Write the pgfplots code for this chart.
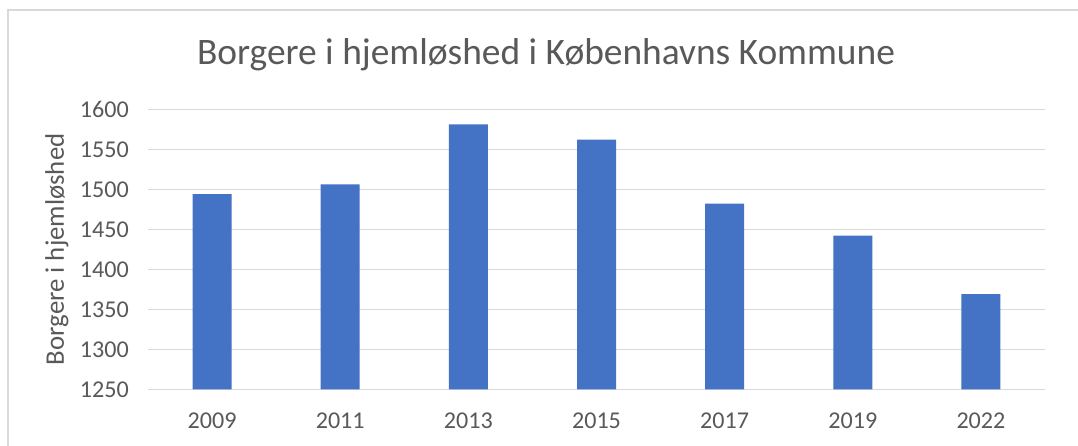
\documentclass[border=0pt]{standalone}
\usepackage{fontspec}
\setmainfont{Carlito}
\usepackage{pgfplots}
\pgfplotsset{compat=1.18}
\definecolor{barblue}{HTML}{4472C4}
\definecolor{gridgray}{HTML}{D9D9D9}
\definecolor{textgray}{HTML}{595959}
\begin{document}
\begin{tikzpicture}[x=1pt,y=1pt]
\useasboundingbox (0,0) rectangle (1078,446);
\fill[white] (0,0) rectangle (1078,446);
\draw[gridgray, line width=1.5pt] (8,0) -- (8,436) -- (1078,436);
\node[anchor=base, font=\fontsize{37.4}{44}\selectfont, text=textgray, inner sep=0pt] at (546,381) {Borgere i hjemløshed i Københavns Kommune};
\begin{axis}[
  at={(148pt,56.7pt)}, anchor=south west,
  scale only axis, width=897pt, height=280pt,
  xmin=-0.5, xmax=6.5, ymin=1250, ymax=1600,
  ybar, bar width=39pt,
  xtick=data,
  xticklabels={2009,2011,2013,2015,2017,2019,2022},
  ytick={1250,1300,1350,1400,1450,1500,1550,1600},
  ymajorgrids,
  grid style={gridgray, line width=1.3pt},
  axis line style={draw=none},
  major tick length=0pt,
  tick label style={font=\fontsize{24.1}{29}\selectfont, text=textgray},
  /pgf/number format/assume math mode=true,
  /pgf/number format/1000 sep={},
  yticklabel style={anchor=east, inner sep=0pt, xshift=-19pt},
  xticklabel style={anchor=north, inner sep=0pt, yshift=-23pt},
  ylabel={Borgere i hjemløshed},
  every axis y label/.style={at={(axis description cs:-0.1015,0.5)}, rotate=90, anchor=center, font=\fontsize{26.8}{32}\selectfont, text=textgray},
]
\addplot[fill=barblue, draw=none] coordinates {(0,1494) (1,1506) (2,1581) (3,1562) (4,1482) (5,1442) (6,1369)};
\end{axis}
\end{tikzpicture}
\end{document}
